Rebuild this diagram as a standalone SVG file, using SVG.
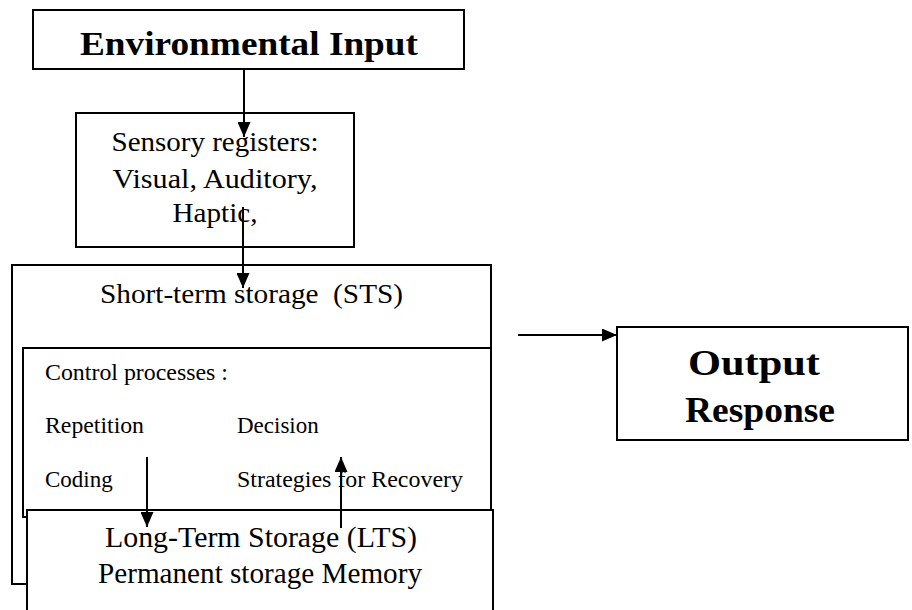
<svg xmlns="http://www.w3.org/2000/svg" width="912" height="610" viewBox="0 0 912 610">
<defs>
<style>
.box{fill:#fff;stroke:#000;stroke-width:2}
.t{font-family:Liberation Serif,Tinos,Times New Roman,serif;fill:#000}
.b{font-weight:bold}
.c{text-anchor:middle}
.ln{stroke:#000;stroke-width:2;fill:none}
</style>
<marker id="ah" markerWidth="15" markerHeight="13" refX="15" refY="6.5" orient="auto" markerUnits="userSpaceOnUse">
<path d="M0,0 L15,6.5 L0,13 Z" fill="#000"/>
</marker>
</defs>
<rect width="912" height="610" fill="#fff"/>
<g id="sts">
<rect class="box" x="12" y="265" width="479" height="319"/>
<text class="t" x="100" y="303" font-size="28" textLength="303" lengthAdjust="spacingAndGlyphs" xml:space="preserve">Short-term storage  (STS)</text>
</g>
<g id="control">
<rect class="box" x="23" y="348" width="468" height="169"/>
<text class="t" x="45" y="380" font-size="23" textLength="183" lengthAdjust="spacingAndGlyphs">Control processes :</text>
<text class="t" x="45" y="433" font-size="23" textLength="99" lengthAdjust="spacingAndGlyphs">Repetition</text>
<text class="t" x="237" y="433" font-size="23">Decision</text>
<text class="t" x="45" y="487" font-size="23">Coding</text>
<text class="t" x="237" y="487" font-size="23" textLength="226" lengthAdjust="spacingAndGlyphs">Strategies for Recovery</text>
</g>
<g id="lts">
<rect class="box" x="27" y="510" width="466" height="112"/>
<text class="t c" x="261" y="547" font-size="29" textLength="312" lengthAdjust="spacingAndGlyphs">Long-Term Storage (LTS)</text>
<text class="t c" x="260" y="583" font-size="29" textLength="324" lengthAdjust="spacingAndGlyphs">Permanent storage Memory</text>
</g>
<g id="env">
<rect class="box" x="33" y="10" width="431" height="59"/>
<text class="t b c" x="249" y="55" font-size="34" textLength="338" lengthAdjust="spacingAndGlyphs">Environmental Input</text>
</g>
<g id="sensory">
<rect class="box" x="76" y="113" width="278" height="134"/>
<text class="t c" x="215" y="151" font-size="28" textLength="207" lengthAdjust="spacingAndGlyphs">Sensory registers:</text>
<text class="t c" x="215" y="188" font-size="28" textLength="205" lengthAdjust="spacingAndGlyphs">Visual, Auditory,</text>
<text class="t c" x="215" y="222" font-size="28" textLength="85" lengthAdjust="spacingAndGlyphs">Haptic,</text>
</g>
<g id="output">
<rect class="box" x="617" y="327" width="291" height="113"/>
<text class="t b c" x="754" y="375" font-size="36" textLength="132" lengthAdjust="spacingAndGlyphs">Output</text>
<text class="t b c" x="760" y="422" font-size="36" textLength="150" lengthAdjust="spacingAndGlyphs">Response</text>
</g>
<g id="connectors">
<line class="ln" x1="244" y1="69" x2="244" y2="137" marker-end="url(#ah)"/>
<line class="ln" x1="243" y1="207" x2="243" y2="288" marker-end="url(#ah)"/>
<line class="ln" x1="147" y1="457" x2="147" y2="527" marker-end="url(#ah)"/>
<line class="ln" x1="341" y1="528" x2="341" y2="457" marker-end="url(#ah)"/>
<line class="ln" x1="518" y1="335" x2="617" y2="335" marker-end="url(#ah)"/>
</g>
</svg>
